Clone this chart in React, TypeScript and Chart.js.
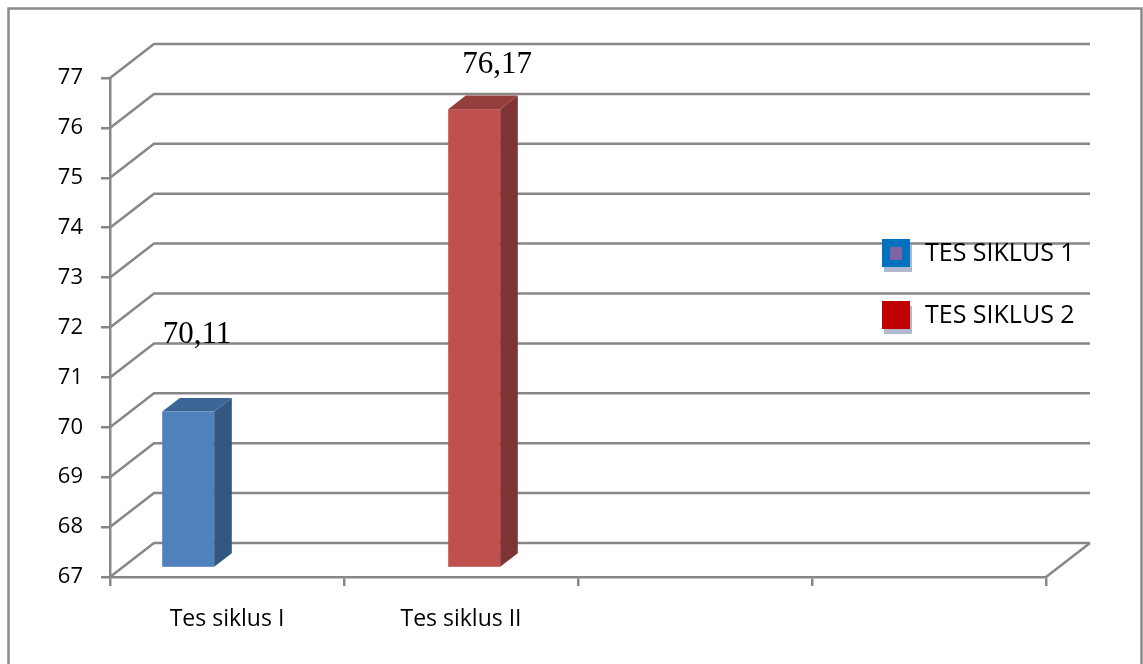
import React, { useEffect, useRef } from "react";
import { Chart, registerables } from "chart.js";

Chart.register(...registerables);

// ---- data ----
const categories = ["Tes siklus I", "Tes siklus II", "", ""];
const seriesNames = ["TES SIKLUS 1", "TES SIKLUS 2", ""];
const siklus1 = [70.11, null, null, null];
const siklus2 = [null, 76.17, null, null];
const series3 = [null, null, null, null];
const yMin = 67;
const yMax = 77;
const yStep = 1;

// ---- style ----
const GRID = "#878787";
const LINE_W = 2.5;
const DX = 44;
const DY = 34;
const DEPTH = 0.4;
const FACES = [
  { front: "#4F81BD", side: "#34577F", top: "#3D6596" },
  { front: "#C0504D", side: "#7E3432", top: "#953F3C" },
];
const LEGEND_COLORS = [
  { outer: "#0070C0", inner: "#8064A2" },
  { outer: "#C00000", inner: null as string | null },
];
const LABEL_SHIFT = [
  { dx: 0, dy: -69 },
  { dx: 14, dy: -36 },
];
const SANS = "'Open Sans', 'Liberation Sans', sans-serif";

const threeDPlugin = {
  id: "threeD",
  beforeDatasetsDraw(chart: any) {
    const { ctx, chartArea, scales } = chart;
    const { left, right, bottom } = chartArea;
    const y = scales.y;
    ctx.save();
    ctx.strokeStyle = GRID;
    ctx.lineWidth = LINE_W;
    y.ticks.forEach((t: any) => {
      const py = y.getPixelForValue(t.value);
      ctx.beginPath();
      ctx.moveTo(left, py);
      ctx.lineTo(left + DX, py - DY);
      ctx.lineTo(right + DX, py - DY);
      ctx.stroke();
    });
    ctx.beginPath();
    ctx.moveTo(right, bottom);
    ctx.lineTo(right + DX, bottom - DY);
    ctx.stroke();
    ctx.restore();
  },
  afterDatasetsDraw(chart: any) {
    const ctx = chart.ctx;
    const area = chart.chartArea;
    const ox = (DX * (1 - DEPTH)) / 2;
    const oy = (DY * (1 - DEPTH)) / 2;
    const dx = DX * DEPTH;
    const dy = DY * DEPTH;
    ctx.save();
    chart.data.datasets.forEach((ds: any, di: number) => {
      const f = FACES[di];
      if (!f) return;
      const meta = chart.getDatasetMeta(di);
      meta.data.forEach((el: any, i: number) => {
        const v = ds.data[i];
        if (v == null) return;
        const { x, y, base, width } = el.getProps(["x", "y", "base", "width"], true);
        const l = x - width / 2 + ox;
        const r = x + width / 2 + ox;
        const t = Math.max(y, area.top) - oy;
        const b = Math.min(base, area.bottom) - oy;
        ctx.fillStyle = f.front;
        ctx.fillRect(l, t, r - l, b - t);
        ctx.fillStyle = f.side;
        ctx.beginPath();
        ctx.moveTo(r, t);
        ctx.lineTo(r + dx, t - dy);
        ctx.lineTo(r + dx, b - dy);
        ctx.lineTo(r, b);
        ctx.closePath();
        ctx.fill();
        ctx.fillStyle = f.top;
        ctx.beginPath();
        ctx.moveTo(l, t);
        ctx.lineTo(l + dx, t - dy);
        ctx.lineTo(r + dx, t - dy);
        ctx.lineTo(r, t);
        ctx.closePath();
        ctx.fill();
        const s = LABEL_SHIFT[di];
        ctx.fillStyle = "#000";
        ctx.font = "31px 'Liberation Serif', 'Times New Roman', serif";
        ctx.textAlign = "center";
        ctx.textBaseline = "alphabetic";
        ctx.fillText(String(v.toFixed(2)).replace(".", ","), (l + r + dx) / 2 + s.dx, t + s.dy);
      });
    });
    ctx.restore();
  },
  afterDraw(chart: any) {
    const ctx = chart.ctx;
    ctx.save();
    // legend
    const lx = 882;
    const ly = 253;
    const gap = 62;
    const box = 28;
    chart.data.datasets.forEach((ds: any, di: number) => {
      if (!ds.label) return;
      const c = LEGEND_COLORS[di];
      const cy = ly + di * gap;
      ctx.fillStyle = "rgba(150,160,190,0.75)";
      ctx.fillRect(lx + 2, cy - box / 2 + 5, box, box);
      ctx.fillStyle = c.outer;
      ctx.fillRect(lx, cy - box / 2, box, box);
      if (c.inner) {
        ctx.fillStyle = c.inner;
        ctx.fillRect(lx + 8, cy - 6, 12, 13);
      }
      ctx.fillStyle = "#000";
      ctx.font = "25px " + SANS;
      ctx.textAlign = "left";
      ctx.textBaseline = "middle";
      ctx.fillText(ds.label, lx + box + 15, cy + 1);
    });
    // outer border
    ctx.strokeStyle = "#8a8a8a";
    ctx.lineWidth = LINE_W;
    ctx.strokeRect(8.5, 8.5, 1133, 670);
    ctx.restore();
  },
};

export default function App() {
  const ref = useRef<HTMLCanvasElement | null>(null);
  useEffect(() => {
    if (!ref.current) return;
    const chart = new Chart(ref.current, {
      type: "bar",
      data: {
        labels: categories,
        datasets: [
          { label: seriesNames[0], data: siklus1, backgroundColor: "rgba(0,0,0,0)", borderWidth: 0 },
          { label: seriesNames[1], data: siklus2, backgroundColor: "rgba(0,0,0,0)", borderWidth: 0 },
          { label: seriesNames[2], data: series3, backgroundColor: "rgba(0,0,0,0)", borderWidth: 0 },
        ] as any,
      },
      options: {
        responsive: false,
        animation: false,
        events: [],
        layout: { padding: { left: 0, top: 78, right: 97, bottom: 0 } },
        datasets: { bar: { categoryPercentage: 2 / 3, barPercentage: 1 } } as any,
        plugins: { legend: { display: false }, tooltip: { enabled: false } },
        scales: {
          x: {
            grid: { drawOnChartArea: false, drawTicks: true, tickLength: 9, color: GRID, lineWidth: LINE_W, offset: true },
            border: { display: true, color: GRID, width: LINE_W },
            ticks: { color: "#000", font: { family: SANS, size: 23 }, padding: 20, maxRotation: 0, autoSkip: false },
            afterFit: (s: any) => {
              s.height = 87;
            },
          },
          y: {
            min: yMin,
            max: yMax,
            grid: { drawOnChartArea: false, drawTicks: true, tickLength: 9, color: GRID, lineWidth: LINE_W },
            border: { display: true, color: GRID, width: LINE_W },
            ticks: { stepSize: yStep, color: "#000", font: { family: SANS, size: 22 }, padding: 18 },
            afterFit: (s: any) => {
              s.width = 110;
            },
          },
        } as any,
      },
      plugins: [threeDPlugin],
    });
    return () => chart.destroy();
  }, []);
  return (
    <div style={{ position: "absolute", left: 0, top: 0, width: 1143, height: 664, background: "#fff" }}>
      <canvas ref={ref} width={1143} height={664} style={{ display: "block" }} />
    </div>
  );
}
